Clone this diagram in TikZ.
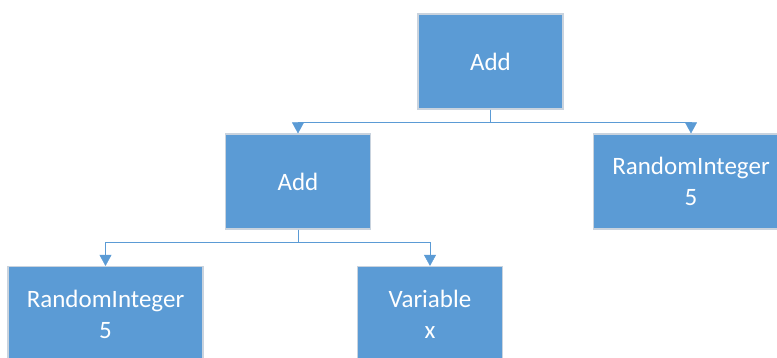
\documentclass[tikz,border=0pt]{standalone}
\usepackage{fontspec}
\setmainfont{Carlito}
\usepackage{tikz}
\usetikzlibrary{positioning, arrows.meta}
\definecolor{boxblue}{HTML}{5B9BD5}
\definecolor{boxedge}{HTML}{C9D3DE}
\tikzset{-{Triangle[width=12pt,length=11pt]}, % arrow heads of the tree edges
line width=1.7pt,
block/.style={rectangle, fill=boxblue, draw=boxedge, line width=1.2pt, minimum width=145pt, minimum height=95pt, text=white, align=center, font=\fontsize{25}{31}\selectfont}, % sets the look of each box
wide/.style={minimum width=195pt},
}

\begin{document}
\begin{tikzpicture}[on grid]
\useasboundingbox (0,0) rectangle (777pt,-358pt);
\node[block] (root) at (490.5pt,-61.5pt) {Add};
\node[block, below left=120pt and 192.5pt of root] (add) {Add};
\node[block, wide, below right=120pt and 200.5pt of root] (rint) {RandomInteger\\5};
\node[block, wide, below left=132.5pt and 192.5pt of add] (lint) {RandomInteger\\5};
\node[block, below right=132.5pt and 132pt of add] (var) {Variable\\x};
\draw[boxblue]
(root.south) -- ++(0,-13pt) -| (add.north);
\draw[boxblue]
(root.south) -- ++(0,-13pt) -| (rint.north);
\draw[boxblue]
(add.south) -- ++(0,-13pt) -| (lint.north);
\draw[boxblue]
(add.south) -- ++(0,-13pt) -| (var.north);
\end{tikzpicture}
\end{document}
